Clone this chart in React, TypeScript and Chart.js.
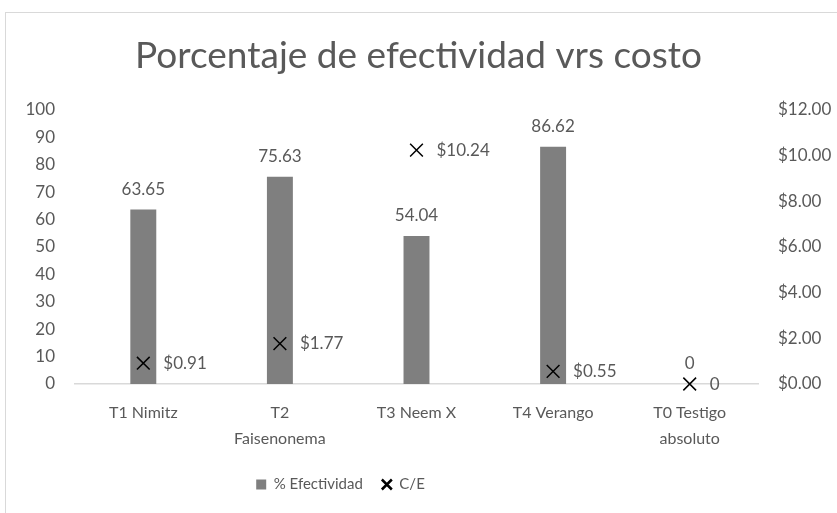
import React, { useEffect, useRef } from "react";
import { Chart, registerables } from "chart.js";

Chart.register(...registerables);

const categories: string[][] = [
  ["T1 Nimitz"],
  ["T2", "Faisenonema"],
  ["T3 Neem X"],
  ["T4 Verango"],
  ["T0 Testigo", "absoluto"],
];
const efectividad: number[] = [63.65, 75.63, 54.04, 86.62, 0];
const costoEfect: number[] = [0.91, 1.77, 10.24, 0.55, 0];
const titleText = "Porcentaje de efectividad vrs costo";
const seriesNames = ["% Efectividad", "C/E"];

const FONT = "Lato, 'Liberation Sans', sans-serif";
const TXT = "#595959";

const labelsPlugin = {
  id: "valueLabels",
  afterDatasetsDraw(chart: any) {
    const ctx = chart.ctx;
    ctx.save();
    ctx.fillStyle = TXT;
    ctx.font = `17px ${FONT}`;
    ctx.textBaseline = "middle";
    const barMeta = chart.getDatasetMeta(0);
    barMeta.data.forEach((el: any, i: number) => {
      const v = efectividad[i];
      ctx.textAlign = "center";
      ctx.fillText(String(v), el.x, el.y - 20);
    });
    const ptMeta = chart.getDatasetMeta(1);
    ptMeta.data.forEach((el: any, i: number) => {
      const v = costoEfect[i];
      ctx.textAlign = "left";
      const t = v === 0 ? "0" : "$" + v.toFixed(2);
      ctx.fillText(t, el.x + 20, el.y + (v === 0 ? 1 : 0));
    });
    ctx.restore();
  },
};

const framePlugin = {
  id: "frame",
  beforeDraw(chart: any) {
    const ctx = chart.ctx;
    ctx.save();
    ctx.fillStyle = "#ffffff";
    ctx.fillRect(0, 0, chart.width, chart.height);
    ctx.strokeStyle = "#d9d9d9";
    ctx.lineWidth = 1;
    ctx.strokeRect(5.5, 12.5, 850, 520);
    ctx.restore();
  },
};

// Excel places the legend slightly left of the centre; shift the built-in legend box
const legendShift = {
  id: "legendShift",
  afterLayout(chart: any) {
    const lg = chart.legend;
    if (lg) {
      lg.left -= 78;
      lg.right -= 78;
    }
  },
};

export default function App() {
  const ref = useRef<HTMLCanvasElement | null>(null);
  useEffect(() => {
    document.body.style.margin = "0";
    if (!ref.current) return;
    const chart = new Chart(ref.current, {
      type: "bar",
      data: {
        labels: categories as any,
        datasets: [
          {
            type: "bar",
            label: seriesNames[0],
            data: efectividad,
            backgroundColor: "#7f7f7f",
            borderWidth: 0,
            yAxisID: "y",
            barPercentage: 0.19,
            categoryPercentage: 1,
            pointStyle: "rect",
            order: 2,
          } as any,
          {
            type: "line",
            label: seriesNames[1],
            data: costoEfect,
            showLine: false,
            yAxisID: "y1",
            pointStyle: "crossRot",
            pointRadius: 9,
            pointHoverRadius: 9,
            borderColor: "#000000",
            backgroundColor: "#000000",
            borderWidth: 1.5,
            clip: false,
            order: 1,
          } as any,
        ],
      },
      options: {
        responsive: false,
        animation: false,
        events: [],
        layout: { padding: { left: 0, right: 0, top: 0, bottom: 11 } },
        plugins: {
          tooltip: { enabled: false },
          title: {
            display: true,
            text: titleText,
            color: TXT,
            font: { family: FONT, size: 37, weight: "normal" },
            padding: { top: 34, bottom: 31.6 },
          },
          legend: {
            position: "bottom",
            labels: {
              usePointStyle: true,
              boxWidth: 10,
              boxHeight: 10,
              padding: 19,
              color: TXT,
              font: { family: FONT, size: 15 },
              sort: (a: any, b: any) => a.datasetIndex - b.datasetIndex,
              generateLabels(chart: any) {
                const items = Chart.defaults.plugins.legend.labels.generateLabels(chart);
                items.forEach((it: any) => {
                  if (it.datasetIndex === 1) {
                    it.lineWidth = 2.5;
                    it.strokeStyle = "#000";
                  } else {
                    it.lineWidth = 0;
                    it.fillStyle = "#7f7f7f";
                    it.strokeStyle = "#7f7f7f";
                  }
                  it.fontColor = TXT;
                });
                return items;
              },
            },
          },
        },
        scales: {
          x: {
            grid: { display: false, drawTicks: false },
            border: { display: true, color: "#d9d9d9", width: 1.5 },
            ticks: {
              color: TXT,
              font: { family: FONT, size: 16, lineHeight: 1.6 },
              padding: 16,
              maxRotation: 0,
              autoSkip: false,
            },
            afterFit(scale: any) {
              scale.height = 74;
            },
          },
          y: {
            position: "left",
            min: 0,
            max: 100,
            grid: { display: false, drawTicks: false },
            border: { display: false },
            ticks: {
              stepSize: 10,
              color: TXT,
              font: { family: FONT, size: 17 },
              padding: 20,
            },
            afterFit(scale: any) {
              scale.width = 75;
            },
          },
          y1: {
            position: "right",
            min: 0,
            max: 12,
            grid: { display: false, drawTicks: false },
            border: { display: false },
            ticks: {
              stepSize: 2,
              color: TXT,
              font: { family: FONT, size: 17 },
              padding: 20,
              callback: (v: any) => "$" + Number(v).toFixed(2),
            },
            afterFit(scale: any) {
              scale.width = 79;
            },
          },
        },
      },
      plugins: [framePlugin, labelsPlugin, legendShift],
    });
    return () => chart.destroy();
  }, []);
  return (
    <div style={{ width: 837, height: 513, position: "relative" }}>
      <canvas ref={ref} width={837} height={513} style={{ display: "block" }} />
    </div>
  );
}
